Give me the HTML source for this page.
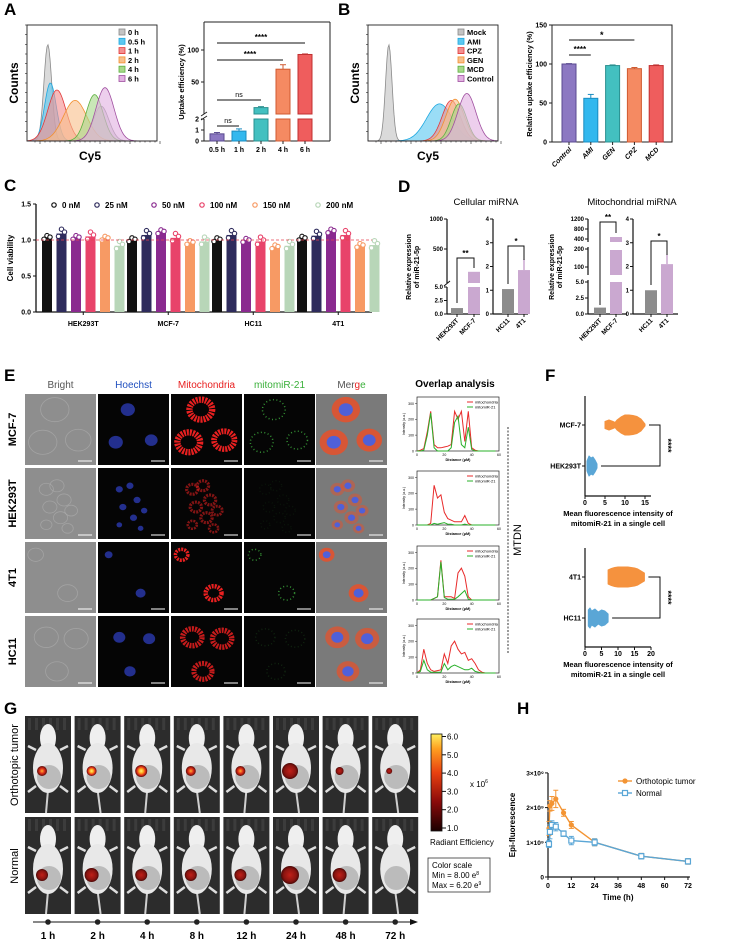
<!DOCTYPE html>
<html><head><meta charset="utf-8"><style>
html,body{margin:0;padding:0;background:#fff}
svg{display:block;font-family:"Liberation Sans",Arial,sans-serif}
.b{font-weight:bold}
</style></head><body>
<svg id="fig" width="729" height="941" viewBox="0 0 729 941" xmlns="http://www.w3.org/2000/svg">
<defs>
<radialGradient id="hot"><stop offset="0" stop-color="#fff27a"/><stop offset="0.35" stop-color="#ffb020"/><stop offset="0.7" stop-color="#e0301a"/><stop offset="1" stop-color="#5a0a08"/></radialGradient>
<radialGradient id="warm"><stop offset="0" stop-color="#ffb030"/><stop offset="0.5" stop-color="#e0301a"/><stop offset="1" stop-color="#5a0a08"/></radialGradient>
<radialGradient id="dark"><stop offset="0" stop-color="#c02018"/><stop offset="0.7" stop-color="#8a1410"/><stop offset="1" stop-color="#4a0806"/></radialGradient>
<linearGradient id="cbar" x1="0" y1="1" x2="0" y2="0"><stop offset="0" stop-color="#1a0000"/><stop offset="0.3" stop-color="#8a0a0a"/><stop offset="0.6" stop-color="#e84010"/><stop offset="0.85" stop-color="#ffa020"/><stop offset="1" stop-color="#fff060"/></linearGradient>
</defs>
<rect x="0" y="0" width="729" height="941" fill="#fff"/>
<g class="b" font-size="17">
<text x="4" y="15">A</text>
<text x="338" y="15">B</text>
<text x="4" y="191">C</text>
<text x="398" y="192">D</text>
<text x="4" y="381">E</text>
<text x="545" y="381">F</text>
<text x="4" y="714">G</text>
<text x="517" y="714">H</text>
</g>
<g id="root"></g>
</svg>
<script>
const NS='http://www.w3.org/2000/svg';
const root=document.getElementById('root');
function mk(tag,attrs,parent){const e=document.createElementNS(NS,tag);for(const k in attrs)e.setAttribute(k,attrs[k]);(parent||root).appendChild(e);return e;}
function tx(x,y,s,attrs,parent){const t=mk('text',Object.assign({x:x,y:y},attrs||{}),parent);t.textContent=s;return t;}

/* ---------- DATA ---------- */
const aHistLabels=['0 h','0.5 h','1 h','2 h','4 h','6 h'];
const aHistCenter=[0.16,0.18,0.23,0.37,0.52,0.60];
const aHistHeight=[0.83,0.50,0.44,0.35,0.40,0.46];
const aHistSigma=[0.03,0.045,0.07,0.09,0.065,0.07];
const aHistFill=['#c4c4c4','#5cc8f0','#f39090','#f8c08c','#a8d88a','#e2b2e2'];
const aHistStroke=['#8a8a8a','#1fa8e0','#e23a3a','#f29030','#5cb040','#a050a0'];
const bHistLabels=['Mock','AMI','CPZ','GEN','MCD','Control'];
const bHistCenter=[0.16,0.55,0.64,0.67,0.70,0.76];
const bHistHeight=[0.83,0.32,0.35,0.36,0.32,0.41];
const bHistSigma=[0.025,0.10,0.07,0.07,0.06,0.07];
const bHistFill=['#c4c4c4','#5cc8f0','#f39090','#f8c08c','#a8d88a','#e2b2e2'];
const bHistStroke=['#8a8a8a','#1fa8e0','#e23a3a','#f29030','#5cb040','#a050a0'];

const aCats=['0.5 h','1 h','2 h','4 h','6 h'];
const aVals=[0.65,0.9,10,70,93];
const aErr=[0.12,0.2,1.5,7,0.8];
const aTickLow=[0,1,2];
const aTickHigh=[50,100];
const bCats=['Control','AMI','GEN','CPZ','MCD'];
const bVals=[100,56,98,94,98];
const bErr=[0.5,5,0.8,1.5,0.8];
const bTicks=[0,50,100,150];
const barFill=['#8c78c2','#33b8ee','#43c0c0','#f58a62','#ef5d5d'];
const barStroke=['#5a4a90','#1a8cc0','#2a9090','#d05a30','#c03030'];

const cGroups=['HEK293T','MCF-7','HC11','4T1'];
const cConc=['0 nM','25 nM','50 nM','100 nM','150 nM','200 nM'];
const cVals=[[1.03,1.09,1.03,1.05,1.02,0.92],[1.0,1.07,1.11,1.03,0.96,0.98],[1.0,1.07,0.99,0.98,0.9,0.92],[1.02,1.06,1.12,1.07,0.92,0.93]];
const cDotDev=[-0.02,0.03,0.01];
const cTicks=[0,0.5,1.0,1.5];
const cColors=['#111111','#2e2b5c','#8a2a8f','#e8436a','#f79a64','#b8d6b8'];

const d1Cats=['HEK293T','MCF-7'];const d1Vals=[1.1,120];
const d2Cats=['HC11','4T1'];const d2Vals=[1.05,1.85];const d2Err=[0.1,0.45];
const d3Cats=['HEK293T','MCF-7'];const d3Vals=[1.0,480];
const d4Cats=['HC11','4T1'];const d4Vals=[1.0,2.1];const d4Err=[0.1,0.4];
const dSmallTicks=[0,1,2,3,4];

const ovDist=[0,2.5,5,7.5,10,12.5,15,17.5,20,22.5,25,27.5,30,32.5,35,37.5,40,42.5,45,47.5,50,52.5,55,57.5];
const ovRed=[
[0,5,15,120,250,40,20,20,25,30,40,250,200,250,60,250,20,5,0,0,0,0,0,0],
[0,0,0,0,10,250,170,190,80,40,30,20,20,20,60,10,0,0,0,0,0,0,0,0],
[0,0,0,0,0,10,20,250,20,20,20,10,170,200,150,20,0,0,0,0,0,0,0,0],
[0,20,150,60,20,10,15,20,120,60,170,200,150,120,130,80,90,60,20,5,0,0,0,0]];
const ovGreen=[
[0,0,5,100,240,20,0,0,0,0,20,180,220,40,20,150,10,0,0,0,0,0,0,0],
[0,0,0,0,0,10,5,10,15,5,5,0,0,0,5,0,0,0,0,0,0,0,0,0],
[0,0,0,0,0,10,20,240,15,5,5,5,20,40,60,5,0,0,0,0,0,0,0,0],
[0,10,80,20,5,5,5,5,60,20,40,50,40,30,20,20,30,10,5,0,0,0,0,0]];

const f1Cats=['MCF-7','HEK293T'];
const f1ViolinVals=[[5,6,7,7.5,8,9,10,11,12,13,14,15],[0.5,1,1.5,2,2.5,3]];
const f1ViolinW=[[0.35,0.5,0.35,0.25,0.5,0.8,1,1,0.95,0.85,0.6,0.1],[0.5,1,0.8,0.9,0.6,0.2]];
const f2Cats=['4T1','HC11'];
const f2ViolinVals=[[7,8,9,10,11,12,13,14,15,16,17,18],[1,1.5,2,3,4,5,6,7]];
const f2ViolinW=[[0.7,0.85,0.95,1,1,1,1,0.95,0.9,0.8,0.6,0.4],[0.8,1,0.7,0.9,0.6,0.8,0.7,0.4]];

const gTimes=['1 h','2 h','4 h','8 h','12 h','24 h','48 h','72 h'];
const gTumorSize=[5,5,6,5,5,8,4,3];
const gTumorLevel=[0.85,1,0.95,0.8,0.75,0.3,0.15,0.1];
const gNormalSize=[6,7,6,6,6,9,7,0];
const gCbarTicks=[1,2,3,4,5,6];

const hTime=[0.5,1,2,4,8,12,24,48,72];
const hTumor=[1.4,2.05,2.12,2.25,1.85,1.5,1.0,0.6,0.45];
const hTumorErr=[0.2,0.15,0.2,0.25,0.1,0.1,0.1,0.08,0.08];
const hNormal=[0.95,1.3,1.5,1.45,1.25,1.05,1.0,0.6,0.45];
const hNormalErr=[0.1,0.2,0.12,0.12,0.08,0.12,0.1,0.08,0.08];
const hXTicks=[0,12,24,36,48,60,72];
const hYTicks=[0,1,2,3];
const hYLabels=['0','1×10⁹','2×10⁹','3×10⁹'];

/* ---------- HISTOGRAMS ---------- */
function histogram(x0,x1,y0,y1,centers,heights,sigmas,fills,strokes,labels,legX,name,cyX){
  const g=mk('g',{});
  
  
  const W=x1-x0,H=y1-y0;
  for(let s=0;s<centers.length;s++){
    let d='M'+x0+' '+y1;
    for(let i=0;i<=130;i++){const f=i/130;let v=heights[s]*Math.exp(-Math.pow((f-centers[s])/sigmas[s],2)/2);
      if(s===0&&name==='histogram-a')v+=0.3*Math.exp(-Math.pow((f-0.57)/0.06,2)/2);
      d+=' L'+(x0+f*W).toFixed(1)+' '+(y1-v*H).toFixed(1);}
    const p=mk('path',{d:d+' Z',fill:fills[s],'fill-opacity':0.62,stroke:strokes[s],'stroke-width':0.8},g);
    
    
  }
  mk('rect',{x:x0,y:y0,width:W,height:H,fill:'none',stroke:'#222','stroke-width':0.9},g);
  for(let i=0;i<12;i++){mk('line',{x1:x0-2,x2:x0,y1:y0+i*H/12,y2:y0+i*H/12,stroke:'#222','stroke-width':0.6},g);}
  for(let i=0;i<26;i++){const xx=x0+8+i*W/26;mk('line',{x1:xx,x2:xx,y1:y1,y2:y1+(i%6===1?3:1.5),stroke:'#222','stroke-width':0.6},g);}
  for(let s=0;s<labels.length;s++){
    const yy=y0+10+s*9.3;
    const sq=mk('rect',{x:legX,y:yy-6,width:6,height:6,fill:fills[s],stroke:strokes[s],'stroke-width':0.8},g);
    
    
    const t=tx(legX+9,yy,labels[s],{'font-size':7.5,class:'b'},g);
    
    
  }
  const yl=tx(0,0,'Counts',{'font-size':12,class:'b',transform:'translate('+(x0-9)+','+((y0+y1)/2)+') rotate(-90)','text-anchor':'middle'},g);
  
  
  const xl=tx(cyX,y1+19,'Cy5',{'font-size':12,class:'b','text-anchor':'middle'},g);
  
  
}
histogram(27,157,25,141,aHistCenter,aHistHeight,aHistSigma,aHistFill,aHistStroke,aHistLabels,119,'histogram-a',90);
histogram(368,498,25,141,bHistCenter,bHistHeight,bHistSigma,bHistFill,bHistStroke,bHistLabels,458,'histogram-b',428);

/* ---------- PANEL A BAR ---------- */
(function(){
  const g=mk('g',{});
  
  
  const yLow=v=>141-v*11, yUp=v=>114-v*0.64, xA=i=>217+i*22;
  mk('line',{x1:204,x2:330,y1:22,y2:22,stroke:'#222'},g);
  mk('line',{x1:330,x2:330,y1:22,y2:141,stroke:'#222'},g);
  mk('line',{x1:204,x2:330,y1:141,y2:141,stroke:'#222'},g);
  mk('line',{x1:204,x2:204,y1:22,y2:114,stroke:'#222'},g);
  mk('line',{x1:204,x2:204,y1:119,y2:141,stroke:'#222'},g);
  mk('line',{x1:201,x2:207,y1:116,y2:112,stroke:'#222'},g);
  mk('line',{x1:201,x2:207,y1:120,y2:116,stroke:'#222'},g);
  for(const v of aTickLow){mk('line',{x1:201,x2:204,y1:yLow(v),y2:yLow(v),stroke:'#222'},g);const t=tx(199,yLow(v)+2.5,String(v),{'font-size':7,class:'b','text-anchor':'end'},g);}
  for(const v of aTickHigh){mk('line',{x1:201,x2:204,y1:yUp(v),y2:yUp(v),stroke:'#222'},g);const t=tx(199,yUp(v)+2.5,String(v),{'font-size':7,class:'b','text-anchor':'end'},g);}
  for(let i=0;i<aCats.length;i++){
    const v=aVals[i],x=xA(i)-7;
    if(v<=2){const r=mk('rect',{x:x,y:yLow(v),width:14,height:141-yLow(v),fill:barFill[i],stroke:barStroke[i],'stroke-width':1},g);
      mk('line',{x1:xA(i),x2:xA(i),y1:yLow(v),y2:yLow(v+aErr[i]),stroke:barStroke[i]},g);mk('line',{x1:xA(i)-3,x2:xA(i)+3,y1:yLow(v+aErr[i]),y2:yLow(v+aErr[i]),stroke:barStroke[i]},g);}
    else{const r=mk('rect',{x:x,y:119,width:14,height:22,fill:barFill[i],stroke:barStroke[i],'stroke-width':1},g);
      const r2=mk('rect',{x:x,y:yUp(v),width:14,height:114-yUp(v),fill:barFill[i],stroke:barStroke[i],'stroke-width':1},g);
      mk('line',{x1:xA(i),x2:xA(i),y1:yUp(v),y2:yUp(v+aErr[i]),stroke:barStroke[i]},g);mk('line',{x1:xA(i)-3,x2:xA(i)+3,y1:yUp(v+aErr[i]),y2:yUp(v+aErr[i]),stroke:barStroke[i]},g);}
    mk('line',{x1:xA(i),x2:xA(i),y1:141,y2:144,stroke:'#222'},g);
    const t=tx(xA(i),152,aCats[i],{'font-size':7,class:'b','text-anchor':'middle'},g);
  }
  const sig=[[0,4,43,'****'],[0,3,60,'****'],[0,2,100,'ns'],[0,1,126,'ns']];
  for(const s of sig){mk('line',{x1:xA(s[0]),x2:xA(s[1]),y1:s[2],y2:s[2],stroke:'#111','stroke-width':1},g);
    const t=tx((xA(s[0])+xA(s[1]))/2,s[2]-3,s[3],{'font-size':s[3]==='ns'?7:8,class:s[3]==='ns'?'':'b','text-anchor':'middle'},g);}
  const yt=tx(0,0,'Uptake efficiency (%)',{'font-size':7.5,class:'b','text-anchor':'middle',transform:'translate(184,82) rotate(-90)'},g);
})();

/* ---------- PANEL B BAR ---------- */
(function(){
  const g=mk('g',{});
  
  
  const yB=v=>142-v*0.78, xB=i=>569+i*21.8;
  mk('rect',{x:552,y:25,width:120,height:117,fill:'none',stroke:'#222'},g);
  for(const v of bTicks){mk('line',{x1:549,x2:552,y1:yB(v),y2:yB(v),stroke:'#222'},g);const t=tx(547,yB(v)+2.5,String(v),{'font-size':7,class:'b','text-anchor':'end'},g);}
  for(let i=0;i<bCats.length;i++){
    const r=mk('rect',{x:xB(i)-7,y:yB(bVals[i]),width:14,height:142-yB(bVals[i]),fill:barFill[i===3?3:i===4?4:i],stroke:barStroke[i],'stroke-width':1},g);
    
    
    const e=yB(bVals[i]+bErr[i]);mk('line',{x1:xB(i),x2:xB(i),y1:yB(bVals[i]),y2:e,stroke:barStroke[i]},g);mk('line',{x1:xB(i)-3,x2:xB(i)+3,y1:e,y2:e,stroke:barStroke[i]},g);
    mk('line',{x1:xB(i),x2:xB(i),y1:142,y2:145,stroke:'#222'},g);
    const t=tx(xB(i)+3,150,bCats[i],{'font-size':7,class:'b','font-style':'italic','text-anchor':'end',transform:'rotate(-45 '+(xB(i)+3)+' 150)'},g);
  }
  mk('line',{x1:xB(0),x2:xB(3),y1:40,y2:40,stroke:'#111'},g);
  const s1=tx((xB(0)+xB(3))/2,38,'*',{'font-size':9,class:'b','text-anchor':'middle'},g);
  mk('line',{x1:xB(0),x2:xB(1),y1:55,y2:55,stroke:'#111'},g);
  const s2=tx((xB(0)+xB(1))/2,52,'****',{'font-size':8,class:'b','text-anchor':'middle'},g);
  const yt=tx(0,0,'Relative uptake efficiency (%)',{'font-size':7.5,class:'b','text-anchor':'middle',transform:'translate(532,84) rotate(-90)'},g);
})();

/* ---------- PANEL C ---------- */
(function(){
  const g=mk('g',{});
  
  
  const yC=v=>312-v*72, xC=(gi,i)=>47+gi*85+i*14.5;
  mk('line',{x1:36,x2:36,y1:204,y2:312,stroke:'#111','stroke-width':1.3},g);
  mk('line',{x1:36,x2:372,y1:312,y2:312,stroke:'#111','stroke-width':1.3},g);
  for(const v of cTicks){mk('line',{x1:33,x2:36,y1:yC(v),y2:yC(v),stroke:'#111'},g);const t=tx(31,yC(v)+2.5,v.toFixed(1),{'font-size':7,class:'b','text-anchor':'end'},g);}
  for(let gi=0;gi<cGroups.length;gi++){
    for(let i=0;i<6;i++){const v=cVals[gi][i],x=xC(gi,i);
      const r=mk('rect',{x:x-5,y:yC(v),width:10,height:312-yC(v),fill:cColors[i]},g);
      
      
      for(let k=0;k<3;k++){const c=mk('circle',{cx:x-3+k*3,cy:yC(v+cDotDev[k]*(1+i%2)),r:2.2,fill:'#fff',stroke:cColors[i],'stroke-width':1.1},g);}
    }
    const cx=(xC(gi,0)+xC(gi,5))/2;
    mk('line',{x1:cx,x2:cx,y1:312,y2:315,stroke:'#111'},g);
    const t=tx(cx,326,cGroups[gi],{'font-size':7,class:'b','text-anchor':'middle'},g);
  }
  mk('line',{x1:36,x2:372,y1:yC(1),y2:yC(1),stroke:'#e84050','stroke-width':0.8,'stroke-dasharray':'3 2'},g);
  const lx=[54,97,154,202,255,318];
  for(let i=0;i<6;i++){const c=mk('circle',{cx:lx[i],cy:205,r:2.2,fill:'#fff',stroke:cColors[i],'stroke-width':1.2},g);
    const t=tx(lx[i]+8,208,cConc[i],{'font-size':8,class:'b'},g);}
  const yt=tx(0,0,'Cell viability',{'font-size':8,class:'b','text-anchor':'middle',transform:'translate(13,258) rotate(-90)'},g);
})();

/* ---------- PANEL D ---------- */
(function(){
  const g=mk('g',{});
  
  
  const gray='#8c8c8c',pink='#caa8d0';
  function ax(x,segs){for(const s of segs)mk('line',{x1:x,x2:x,y1:s[0],y2:s[1],stroke:'#111','stroke-width':1.2},g);}
  function tick(x,y,l){mk('line',{x1:x-3,x2:x,y1:y,y2:y,stroke:'#111'},g);const t=tx(x-4,y+2,l,{'font-size':6,class:'b','text-anchor':'end'},g);}
  function xlab(x,l){mk('line',{x1:x,x2:x,y1:314,y2:317,stroke:'#111'},g);const t=tx(x+2,321,l,{'font-size':6.5,class:'b','text-anchor':'end',transform:'rotate(-45 '+(x+2)+' 321)'},g);}
  function bar(x,y0,y1,c,n){const r=mk('rect',{x:x-6,y:y0,width:12,height:y1-y0,fill:c},g);}
  function brk(x1,x2,y,ya,yb,s){mk('polyline',{points:x1+','+ya+' '+x1+','+y+' '+x2+','+y+' '+x2+','+yb,fill:'none',stroke:'#111','stroke-width':1},g);const t=tx((x1+x2)/2,y-2,s,{'font-size':8,class:'b','text-anchor':'middle'},g);}
  // chart1
  const y1l=v=>314-v*5.4,y1u=v=>279-v*0.06;
  ax(447,[[219,283],[287,314]]);mk('line',{x1:447,x2:480,y1:314,y2:314,stroke:'#111','stroke-width':1.2},g);
  mk('line',{x1:444,x2:450,y1:286,y2:281,stroke:'#111'},g);
  tick(447,y1u(1000),'1000');tick(447,y1u(500),'500');tick(447,y1l(5),'5.0');tick(447,y1l(2.5),'2.5');tick(447,y1l(0),'0.0');
  bar(457,y1l(d1Vals[0]),314,gray,'bar-cellular-HEK293T');
  bar(474,287,314,pink,'bar-cellular-MCF-7-lower');bar(474,y1u(d1Vals[1]),283,pink,'bar-cellular-MCF-7');
  brk(457,474,258,303,268,'**');xlab(457,d1Cats[0]);xlab(474,d1Cats[1]);
  // chart2
  const y2=v=>314-v*23.75;
  ax(493,[[219,314]]);mk('line',{x1:493,x2:528,y1:314,y2:314,stroke:'#111','stroke-width':1.2},g);
  for(const v of dSmallTicks)tick(493,y2(v),String(v));
  bar(508,y2(d2Vals[0]),314,gray,'bar-cellular-HC11');bar(524,y2(d2Vals[1]),314,pink,'bar-cellular-4T1');
  mk('line',{x1:524,x2:524,y1:y2(d2Vals[1]),y2:y2(d2Vals[1]+d2Err[1]),stroke:pink,'stroke-width':1.5},g);
  brk(508,524,246,284,260,'*');xlab(508,d2Cats[0]);xlab(524,d2Cats[1]);
  // chart3
  const y3a=v=>314-v*6.4,y3b=v=>285-v*0.18,y3c=v=>249-v*0.025;
  ax(588,[[219,242],[247,275],[280,314]]);mk('line',{x1:588,x2:627,y1:314,y2:314,stroke:'#111','stroke-width':1.2},g);
  tick(588,y3c(1200),'1200');tick(588,y3c(800),'800');tick(588,y3c(400),'400');tick(588,y3b(200),'200');tick(588,y3b(100),'100');tick(588,y3a(5),'5.0');tick(588,y3a(2.5),'2.5');tick(588,y3a(0),'0.0');
  bar(600,y3a(d3Vals[0]),314,gray,'bar-mito-HEK293T');
  bar(616,282,314,pink,'bar-mito-MCF-7-lower');bar(616,250,275,pink,'bar-mito-MCF-7-middle');bar(616,y3c(d3Vals[1]),242,pink,'bar-mito-MCF-7');
  brk(600,616,222,305,233,'**');xlab(600,d3Cats[0]);xlab(616,d3Cats[1]);
  // chart4
  ax(633,[[219,314]]);mk('line',{x1:633,x2:678,y1:314,y2:314,stroke:'#111','stroke-width':1.2},g);
  for(const v of dSmallTicks)tick(633,y2(v),String(v));
  bar(651,y2(d4Vals[0]),314,gray,'bar-mito-HC11');bar(667,y2(d4Vals[1]),314,pink,'bar-mito-4T1');
  mk('line',{x1:667,x2:667,y1:y2(d4Vals[1]),y2:y2(d4Vals[1]+d4Err[1]),stroke:pink,'stroke-width':1.5},g);
  brk(651,667,241,285,255,'*');xlab(651,d4Cats[0]);xlab(667,d4Cats[1]);
  const titles=[[486,'Cellular miRNA'],[632,'Mitochondrial miRNA']];
  for(const t0 of titles){const t=tx(t0[0],205,t0[1],{'font-size':9.5,'text-anchor':'middle'},g);}
  for(const x of [411,554]){const t=tx(0,0,'Relative expression',{'font-size':7,class:'b','text-anchor':'middle',transform:'translate('+x+',267) rotate(-90)'},g);
    const t2=tx(0,0,'of miR-21-5p',{'font-size':7,class:'b','text-anchor':'middle',transform:'translate('+(x+8)+',267) rotate(-90)'},g);}
})();

/* ---------- PANEL E ---------- */
(function(){
  const g=mk('g',{});
  
  
  const rows=['MCF-7','HEK293T','4T1','HC11'];
  const rowY=[394,468,542,616],colX=[25,98,171,244,316],S=71;
  const cells=[[[0.42,0.22,0.2],[0.25,0.68,0.2],[0.75,0.65,0.18]],
    [[0.3,0.3,0.1],[0.45,0.25,0.1],[0.55,0.45,0.1],[0.35,0.55,0.1],[0.5,0.7,0.1],[0.65,0.6,0.09],[0.3,0.8,0.08],[0.6,0.85,0.08]],
    [[0.15,0.18,0.11],[0.6,0.72,0.14]],
    [[0.3,0.3,0.17],[0.72,0.32,0.17],[0.45,0.78,0.16]]];
  const redOp=[1,0.55,1,0.85],greenOp=[0.9,0.1,0.9,0.2];
  const heads=[['Bright','#555'],['Hoechst','#1f4fbf'],['Mitochondria','#e82020'],['mitomiR-21','#3ab03a']];
  for(let c=0;c<4;c++){const t=tx(colX[c]+S/2,388,heads[c][0],{'font-size':10,'text-anchor':'middle',fill:heads[c][1]},g);}
  const m=mk('text',{x:colX[4]+S/2,y:388,'font-size':10,'text-anchor':'middle'},g);
  
  
  m.innerHTML='<tspan fill="#555">Mer</tspan><tspan fill="#e82020">g</tspan><tspan fill="#3ab03a">e</tspan>';
  for(let r=0;r<4;r++){
    const y=rowY[r];
    const lab=tx(0,0,rows[r],{'font-size':11,class:'b','text-anchor':'middle',transform:'translate(16,'+(y+S/2)+') rotate(-90)'},g);
    
    
    for(let c=0;c<5;c++){
      const x=colX[c];
      const bg=mk('rect',{x:x,y:y,width:S,height:S,fill:(c===0?'#8e8e8e':c===4?'#7a7a7a':'#050505')},g);
      
      
      for(const ce of cells[r]){
        const cx=x+ce[0]*S,cy=y+ce[1]*S,rr=ce[2]*S;
        if(c===0)mk('ellipse',{cx:cx,cy:cy,rx:rr,ry:rr*0.85,fill:'none',stroke:'#b0b0b0','stroke-width':0.8,opacity:0.6},g);
        if(c===1)mk('ellipse',{cx:cx,cy:cy,rx:rr*0.5,ry:rr*0.45,fill:'#2a3ab0',opacity:0.8},g);
        if(c===2)mk('ellipse',{cx:cx,cy:cy,rx:rr*0.8,ry:rr*0.7,fill:'none',stroke:'#e82020','stroke-width':rr*0.45,'stroke-dasharray':'2 1',opacity:redOp[r]},g);
        if(c===3)mk('ellipse',{cx:cx,cy:cy,rx:rr*0.8,ry:rr*0.7,fill:'none',stroke:'#3aa03a','stroke-width':1.5,'stroke-dasharray':'1 2.5',opacity:greenOp[r]},g);
        if(c===4){mk('ellipse',{cx:cx,cy:cy,rx:rr,ry:rr*0.9,fill:'#e8502a',opacity:redOp[r]*0.85},g);mk('ellipse',{cx:cx,cy:cy,rx:rr*0.5,ry:rr*0.45,fill:'#5060d8'},g);}
      }
      mk('line',{x1:x+S-18,x2:x+S-4,y1:y+S-4,y2:y+S-4,stroke:'#fff','stroke-width':1},g);
    }
  }
})();

/* ---------- OVERLAP PLOTS ---------- */
(function(){
  const g=mk('g',{});
  
  
  const t=tx(455,387,'Overlap analysis',{'font-size':10,class:'b','text-anchor':'middle'},g);
  
  
  const tops=[397,471,546,619],x0=417,x1=499,H=54;
  for(let p=0;p<4;p++){
    const y0=tops[p],yb=y0+H;
    const xs=d=>x0+d/60*(x1-x0),ys=v=>yb-v/340*H;
    mk('rect',{x:x0,y:y0,width:x1-x0,height:H,fill:'#fff',stroke:'#222','stroke-width':0.7},g);
    for(const v of [0,100,200,300]){mk('line',{x1:x0-2,x2:x0,y1:ys(v),y2:ys(v),stroke:'#222','stroke-width':0.5},g);tx(x0-3,ys(v)+1.5,String(v),{'font-size':3.5,'text-anchor':'end'},g);}
    for(const d of [0,20,40,60])tx(xs(d),yb+5,String(d),{'font-size':3.5,'text-anchor':'middle'},g);
    tx((x0+x1)/2,yb+10,'Distance (μM)',{'font-size':3.8,class:'b','text-anchor':'middle'},g);
    tx(0,0,'Intensity (a.u.)',{'font-size':3.5,'text-anchor':'middle',transform:'translate('+(x0-12)+','+(y0+H/2)+') rotate(-90)'},g);
    const rl=mk('polyline',{points:ovDist.map((d,i)=>xs(d).toFixed(1)+','+ys(ovRed[p][i]).toFixed(1)).join(' '),fill:'none',stroke:'#e82a2a','stroke-width':1},g);
    
    
    const gl=mk('polyline',{points:ovDist.map((d,i)=>xs(d).toFixed(1)+','+ys(ovGreen[p][i]).toFixed(1)).join(' '),fill:'none',stroke:'#2ab02a','stroke-width':1},g);
    
    
    mk('line',{x1:x1-32,x2:x1-26,y1:y0+5,y2:y0+5,stroke:'#e82a2a'},g);tx(x1-24,y0+6.5,'mitochondria',{'font-size':4},g);
    mk('line',{x1:x1-32,x2:x1-26,y1:y0+10,y2:y0+10,stroke:'#2ab02a'},g);tx(x1-24,y0+11.5,'mitomiR-21',{'font-size':4},g);
  }
  mk('line',{x1:508,x2:508,y1:427,y2:653,stroke:'#222','stroke-dasharray':'2 1.5','stroke-width':0.9},g);
  const md=tx(0,0,'MTDN',{'font-size':11,'text-anchor':'middle',transform:'translate(521,540) rotate(-90)'},g);
  
  
})();

/* ---------- PANEL F ---------- */
function violinChart(name,yTop,yAxis,cats,catY,vals,widths,colors,maxV,ticks){
  const g=mk('g',{});
  
  
  const x0=585,x1=651,xs=v=>x0+v/maxV*(x1-x0);
  mk('line',{x1:x0,x2:x0,y1:yTop,y2:yAxis,stroke:'#111','stroke-width':1.2},g);
  mk('line',{x1:x0,x2:x1,y1:yAxis,y2:yAxis,stroke:'#111','stroke-width':1.2},g);
  for(const v of ticks){mk('line',{x1:xs(v),x2:xs(v),y1:yAxis,y2:yAxis+3,stroke:'#111'},g);const t=tx(xs(v),yAxis+9,String(v),{'font-size':7,class:'b','text-anchor':'middle'},g);}
  for(let k=0;k<2;k++){
    const cy=catY[k];
    mk('line',{x1:x0-3,x2:x0,y1:cy,y2:cy,stroke:'#111'},g);
    const t=tx(x0-4,cy+2.5,cats[k],{'font-size':7,class:'b','text-anchor':'end'},g);
    let top='',bot='';
    for(let i=0;i<vals[k].length;i++){top+=(i?' L':'M')+xs(vals[k][i]).toFixed(1)+' '+(cy-widths[k][i]*10).toFixed(1);}
    for(let i=vals[k].length-1;i>=0;i--){bot+=' L'+xs(vals[k][i]).toFixed(1)+' '+(cy+widths[k][i]*10).toFixed(1);}
    const p=mk('path',{d:top+bot+' Z',fill:colors[k],stroke:colors[k],'stroke-width':1,'stroke-linejoin':'round'},g);
    
    
  }
  const bx=xs(maxV)+9;
  mk('polyline',{points:(xs(vals[0][vals[0].length-1])+4)+','+catY[0]+' '+bx+','+catY[0]+' '+bx+','+catY[1]+' '+(xs(vals[1][vals[1].length-1])+4)+','+catY[1],fill:'none',stroke:'#111','stroke-width':1},g);
  const st=tx(0,0,'****',{'font-size':9,class:'b','text-anchor':'middle',transform:'translate('+(bx+5)+','+((catY[0]+catY[1])/2)+') rotate(90)'},g);
  
  
  const a=tx(618,yAxis+20,'Mean fluorescence intensity of',{'font-size':7.5,class:'b','text-anchor':'middle'},g);
  const b=tx(618,yAxis+30,'mitomiR-21 in a single cell',{'font-size':7.5,class:'b','text-anchor':'middle'},g);
}
violinChart('violin-chart-mcf7',396,496,f1Cats,[425,466],f1ViolinVals,f1ViolinW,['#f5923e','#5aa6d6'],16.5,[0,5,10,15]);
violinChart('violin-chart-4t1',548,647,f2Cats,[577,618],f2ViolinVals,f2ViolinW,['#f5923e','#5aa6d6'],20,[0,5,10,15,20]);

/* ---------- PANEL G ---------- */
(function(){
  const g=mk('g',{});
  
  
  const rowY=[716,817],H=97,W=46;
  const fillFor=l=>l>0.9?'url(#hot)':l>0.6?'url(#warm)':'url(#dark)';
  for(let r=0;r<2;r++){
    for(let c=0;c<8;c++){
      const x=25+c*49.6,y=rowY[r],cx=x+W/2;
      const bg=mk('rect',{x:x,y:y,width:W,height:H,fill:'#2c2c2c'},g);
      
      
      for(let k=0;k<6;k++)mk('rect',{x:x+3+k*7,y:y+2,width:3,height:12,fill:'#3c3c3c'},g);
      mk('path',{d:'M'+(cx-12)+' '+(y+34)+' L'+(cx-20)+' '+(y+30)+' M'+(cx+12)+' '+(y+34)+' L'+(cx+20)+' '+(y+30)+' M'+(cx-12)+' '+(y+70)+' L'+(cx-20)+' '+(y+76)+' M'+(cx+12)+' '+(y+70)+' L'+(cx+20)+' '+(y+76),stroke:'#ddd','stroke-width':2.5},g);
      mk('line',{x1:cx,x2:cx+(c%2?3:-2),y1:y+74,y2:y+H,stroke:'#cfcfcf','stroke-width':2},g);
      mk('ellipse',{cx:cx,cy:y+22,rx:8,ry:14,fill:'#efefef'},g);
      mk('ellipse',{cx:cx,cy:y+52,rx:15,ry:25,fill:'#e8e8e8'},g);
      mk('ellipse',{cx:cx+1,cy:y+61,rx:12,ry:12,fill:'#a8a8a8',opacity:0.7},g);
      const sz=r?gNormalSize[c]:gTumorSize[c];
      if(sz>0){const lv=r?0.3:gTumorLevel[c];
        const sp=mk('circle',{cx:cx-6,cy:y+(r?58:55),r:sz,fill:fillFor(lv)},g);
        
        }
    }
  }
  const l1=tx(0,0,'Orthotopic tumor',{'font-size':11,'text-anchor':'middle',transform:'translate(18,765) rotate(-90)'},g);
  const l2=tx(0,0,'Normal',{'font-size':11,'text-anchor':'middle',transform:'translate(18,866) rotate(-90)'},g);
  mk('line',{x1:33,x2:415,y1:922,y2:922,stroke:'#111','stroke-width':1},g);
  mk('path',{d:'M418 922 L410 919 L410 925 Z',fill:'#111'},g);
  for(let c=0;c<8;c++){const cx=25+c*49.6+W/2;
    const d=mk('circle',{cx:cx,cy:922,r:2.8,fill:'#222'},g);
    const t=tx(cx,939,gTimes[c],{'font-size':10,class:'b','text-anchor':'middle'},g);}
  const cb=mk('rect',{x:431,y:734,width:11,height:97,fill:'url(#cbar)',stroke:'#111','stroke-width':0.8},g);
  
  
  for(const v of gCbarTicks){const yy=828-(v-1)*18.3;mk('line',{x1:442,x2:446,y1:yy,y2:yy,stroke:'#111'},g);const t=tx(447,yy+3,v.toFixed(1),{'font-size':8},g);}
  const xe=mk('text',{x:470,y:787,'font-size':8},g);xe.innerHTML='x 10<tspan font-size="5" dy="-4">6</tspan>';
  const re=tx(430,845,'Radiant Efficiency',{'font-size':8},g);
  mk('rect',{x:428,y:858,width:62,height:34,fill:'#fff',stroke:'#333','stroke-width':0.8},g);
  const c1=tx(432,868,'Color scale',{'font-size':8},g);
  const c2=mk('text',{x:432,y:878,'font-size':8},g);c2.innerHTML='Min = 8.00 e<tspan font-size="5" dy="-3">8</tspan>';
  const c3=mk('text',{x:432,y:888,'font-size':8},g);c3.innerHTML='Max = 6.20 e<tspan font-size="5" dy="-3">9</tspan>';
})();

/* ---------- PANEL H ---------- */
(function(){
  const g=mk('g',{});
  
  
  const xH=t=>548+t*1.944,yH=v=>877-v*34.7;
  mk('line',{x1:548,x2:548,y1:773,y2:877,stroke:'#111','stroke-width':1.2},g);
  mk('line',{x1:548,x2:xH(73),y1:877,y2:877,stroke:'#111','stroke-width':1.2},g);
  for(const t of hXTicks){mk('line',{x1:xH(t),x2:xH(t),y1:877,y2:880,stroke:'#111'},g);const l=tx(xH(t),888,String(t),{'font-size':7,class:'b','text-anchor':'middle'},g);}
  for(let i=0;i<hYTicks.length;i++){const y=yH(hYTicks[i]);mk('line',{x1:545,x2:548,y1:y,y2:y,stroke:'#111'},g);const l=tx(544,y+2.5,hYLabels[i],{'font-size':6.5,class:'b','text-anchor':'end'},g);}
  function series(vals,errs,col,sq,name){
    const pl=mk('polyline',{points:hTime.map((t,i)=>xH(t).toFixed(1)+','+yH(vals[i]).toFixed(1)).join(' '),fill:'none',stroke:col,'stroke-width':1.4},g);
    
    
    for(let i=0;i<hTime.length;i++){const x=xH(hTime[i]),y=yH(vals[i]),e=errs[i]*34.7;
      mk('line',{x1:x,x2:x,y1:y-e,y2:y+e,stroke:col},g);mk('line',{x1:x-2.5,x2:x+2.5,y1:y-e,y2:y-e,stroke:col},g);mk('line',{x1:x-2.5,x2:x+2.5,y1:y+e,y2:y+e,stroke:col},g);
      const m=sq?mk('rect',{x:x-2.5,y:y-2.5,width:5,height:5,fill:'#fff',stroke:col,'stroke-width':1.2},g):mk('circle',{cx:x,cy:y,r:2.6,fill:col},g);
      
      }
  }
  series(hTumor,hTumorErr,'#f39433',false,'orthotopic-tumor');
  series(hNormal,hNormalErr,'#5aa6d6',true,'normal');
  mk('line',{x1:618,x2:632,y1:781,y2:781,stroke:'#f39433','stroke-width':1.4},g);mk('circle',{cx:625,cy:781,r:2.6,fill:'#f39433'},g);
  const t1=tx(636,784,'Orthotopic tumor',{'font-size':8},g);
  mk('line',{x1:618,x2:632,y1:793,y2:793,stroke:'#5aa6d6','stroke-width':1.4},g);mk('rect',{x:622.5,y:790.5,width:5,height:5,fill:'#fff',stroke:'#5aa6d6','stroke-width':1.2},g);
  const t2=tx(636,796,'Normal',{'font-size':8},g);
  const yt=tx(0,0,'Epi-fluorescence',{'font-size':8,class:'b','text-anchor':'middle',transform:'translate(515,825) rotate(-90)'},g);
  const xt=tx(618,900,'Time (h)',{'font-size':8,class:'b','text-anchor':'middle'},g);
})();
</script>
</body></html>
